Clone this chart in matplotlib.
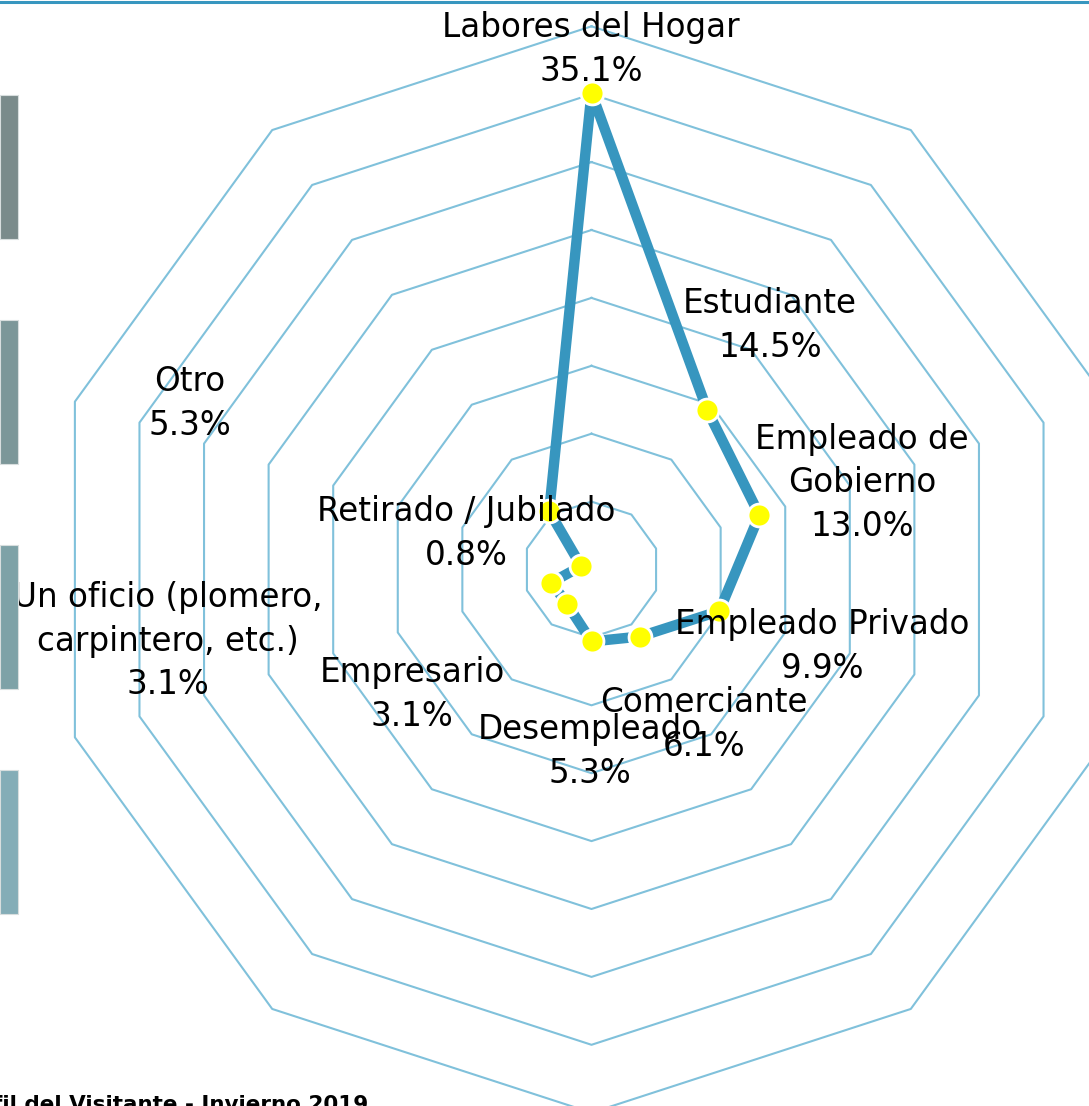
import numpy as np
import matplotlib
matplotlib.use('Agg')
import matplotlib.pyplot as plt
from matplotlib.patches import Rectangle
from matplotlib.lines import Line2D

# radar data, clockwise from the top
categories = ['Labores del Hogar', 'Estudiante', 'Empleado de\nGobierno',
              'Empleado Privado', 'Comerciante', 'Desempleado', 'Empresario',
              'Un oficio (plomero,\ncarpintero, etc.)', 'Retirado / Jubilado', 'Otro']
values = [35.1, 14.5, 13.0, 9.9, 6.1, 5.3, 3.1, 3.1, 0.8, 5.3]
ring_levels = [5, 10, 15, 20, 25, 30, 35, 40]

# where the labels sit (data units, same scale as the values)
label_x = [-0.04, 13.14, 19.92, 16.97, 8.28, -0.11, -13.22, -31.19, -9.20, -29.57]
label_y = [38.29, 18.0, 6.37, -5.67, -11.41, -13.40, -9.20, -5.27, 2.65, 12.22]

LINE_BLUE = '#3796bf'
GRID_BLUE = '#80c1db'
side_bar_colors = ['#7a8b8b', '#7c9799', '#7ea2a7', '#84adb7']


def main():
    W, H = 1089, 1106
    fig = plt.figure(figsize=(W / 100, H / 100), dpi=100)
    ax = fig.add_axes([0, 0, 1, 1])
    px = 13.58  # pixels per percent
    cx, cy = 591.5, 569.5
    ax.set_xlim(-cx / px, (W - cx) / px)
    ax.set_ylim(-(H - cy) / px, cy / px)
    ax.axis('off')

    n = len(values)
    theta = np.arange(n) * 2 * np.pi / n
    ang = np.append(theta, theta[0])

    for r in ring_levels:
        ax.plot(r * np.sin(ang), r * np.cos(ang), color=GRID_BLUE, lw=1.5, zorder=1)

    v = np.append(values, values[0])
    ax.plot(v * np.sin(ang), v * np.cos(ang), color=LINE_BLUE, lw=7.5,
            solid_joinstyle='round', zorder=3)
    ax.plot(np.array(values) * np.sin(theta), np.array(values) * np.cos(theta),
            'o', ms=16.5, mfc='#ffff00', mec='white', mew=2, zorder=4)

    for name, val, lx, ly in zip(categories, values, label_x, label_y):
        ax.text(lx, ly, '%s\n%.1f%%' % (name, val), ha='center', va='center',
                multialignment='center', fontsize=23.5, linespacing=1.42,
                color='black', zorder=5)

    # decorative bits around the chart
    fig.add_artist(Line2D([0, 1], [1 - 1.5 / H] * 2, lw=2.2, color=LINE_BLUE,
                          transform=fig.transFigure))
    for i, c in enumerate(side_bar_colors):
        y0 = 95 + i * 225
        fig.add_artist(Rectangle((0, 1 - (y0 + 144) / H), 18 / W, 144 / H,
                                 transform=fig.transFigure, facecolor=c,
                                 edgecolor='#d8dede', lw=0.8, zorder=6))
    fig.text(368 / W, 1 - 1095 / H, 'Perfil del Visitante - Invierno 2019',
             ha='right', va='top', fontsize=15.5, fontweight='bold')

    fig.savefig('out.png', dpi=100)


if __name__ == '__main__':
    main()
